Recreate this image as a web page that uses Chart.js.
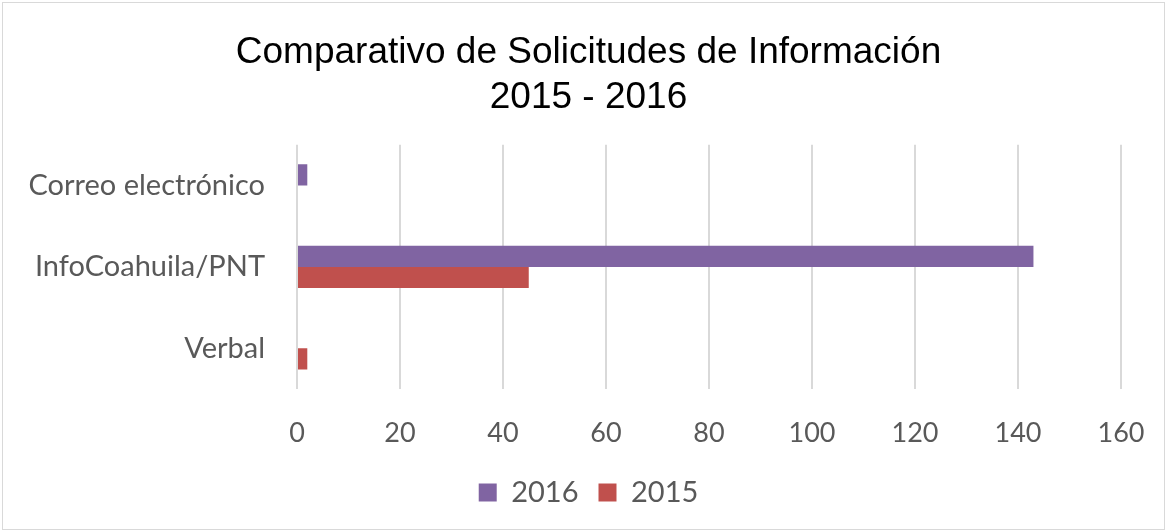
<!DOCTYPE html>
<html>
<head>
<meta charset="utf-8">
<script src="https://cdn.jsdelivr.net/npm/chart.js@4.4.1/dist/chart.umd.min.js"></script>
<style>
    html, body { margin: 0; padding: 0; background: #fff; }
    #wrap { position: absolute; left: 2px; top: 2px; width: 1163px; height: 528px; border: 1px solid #d9d9d9; box-sizing: border-box; }
    #chart { display: block; }
</style>
</head>
<body>
<div id="wrap"><canvas id="chart" width="1161" height="526"></canvas></div>
<script>
// categories and values
const categories = ['Correo electrónico', 'InfoCoahuila/PNT', 'Verbal'];
const values2016 = [2, 143, 0];
const values2015 = [0, 45, 2];
const titleLines = ['Comparativo de Solicitudes de Información', '2015 - 2016'];

const fontFamily = 'Lato, "Open Sans", sans-serif';

var ctx = document.getElementById('chart');

// the y labels stick out past the left padding, so widen the clip area after layout
const labelRoom = {
    id: 'labelRoom',
    afterLayout: function (chart) {
        chart.scales.y.left = 0;
    }
};

const myChart = new Chart(ctx, {
    type: 'bar',
    data: {
        labels: categories,
        datasets: [
            {
                label: '2016',
                data: values2016,
                backgroundColor: '#8064A2',
                borderWidth: 0
            },
            {
                label: '2015',
                data: values2015,
                backgroundColor: '#C0504D',
                borderWidth: 0
            }
        ]
    },
    options: {
        responsive: false,
        animation: false,
        indexAxis: 'y',
        layout: {
            padding: { left: 53, right: 43, top: 28, bottom: 12 }
        },
        datasets: {
            bar: { barPercentage: 1, categoryPercentage: 0.52 }
        },
        scales: {
            x: {
                min: 0,
                max: 160,
                ticks: {
                    stepSize: 20,
                    color: '#595959',
                    font: { family: fontFamily, size: 27 },
                    padding: 28
                },
                grid: { color: '#d9d9d9', lineWidth: 2, drawTicks: false },
                border: { display: false },
                afterFit: function (scale) {
                    scale.height = 69;
                    scale.paddingLeft = 0;
                    scale.paddingRight = 0;
                }
            },
            y: {
                ticks: {
                    color: '#595959',
                    font: { family: fontFamily, size: 29 },
                    padding: 24
                },
                grid: { display: false },
                border: { display: false },
                afterFit: function (scale) {
                    scale.width = 241;
                }
            }
        },
        plugins: {
            title: {
                display: true,
                text: titleLines,
                color: '#000',
                font: { family: '"Liberation Sans", Arial, sans-serif', size: 37, weight: 'normal', lineHeight: 1.2 },
                padding: { top: 0, bottom: 25 }
            },
            legend: {
                position: 'bottom',
                labels: {
                    color: '#595959',
                    font: { family: fontFamily, size: 29 },
                    boxWidth: 18,
                    boxHeight: 18,
                    padding: 20
                }
            },
            tooltip: { enabled: false }
        }
    },
    plugins: [labelRoom]
});
</script>
</body>
</html>
